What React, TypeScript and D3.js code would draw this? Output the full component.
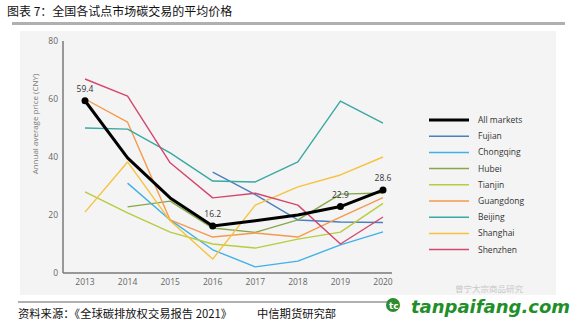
import React from "react";
import * as d3 from "d3";

const years = [2013, 2014, 2015, 2016, 2017, 2018, 2019, 2020];
const yTicks = [0, 20, 40, 60, 80];

const allMarkets = [59.4, 39.7, 25.9, 16.2, 18.0, 20.0, 22.9, 28.6];
const fujian = [null, null, null, 34.8, 27.0, 18.3, 17.6, 17.4];
const chongqing = [null, 31.0, 18.3, 8.0, 2.1, 4.1, 9.7, 14.2];
const hubei = [null, 22.8, 24.8, 15.5, 14.0, 18.3, 27.2, 27.6];
const tianjin = [28.0, 20.7, 14.1, 10.0, 8.6, 11.7, 14.1, 24.0];
const guangdong = [60.0, 52.0, 18.3, 12.4, 13.8, 12.4, 19.3, 26.0];
const beijing = [50.0, 49.6, 41.4, 31.7, 31.4, 38.3, 59.3, 51.7];
const shanghai = [21.0, 38.3, 18.0, 4.8, 23.4, 29.7, 33.8, 40.0];
const shenzhen = [66.9, 61.0, 38.0, 25.9, 27.5, 23.4, 10.0, 19.3];

const seriesNames = ["All markets", "Fujian", "Chongqing", "Hubei", "Tianjin", "Guangdong", "Beijing", "Shanghai", "Shenzhen"];
const seriesData = [allMarkets, fujian, chongqing, hubei, tianjin, guangdong, beijing, shanghai, shenzhen];
const seriesColors = ["#000000", "#4a7fc0", "#3fb1e8", "#86a84a", "#b9cb3e", "#f59a4c", "#3aa8a3", "#f7c23e", "#d4476e"];
const labeledIdx = [0, 3, 6, 7];

const title = "图表 7：全国各试点市场碳交易的平均价格";
const source = "资料来源：《全球碳排放权交易报告 2021》";
const org = "中信期货研究部";

export default function App() {
  const x = d3.scalePoint<number>().domain(years).range([85, 383]);
  const y = d3.scaleLinear().domain([0, 80]).range([273, 41]);
  const line = d3
    .line<number | null>()
    .defined((d) => d != null)
    .x((_, i) => x(years[i]) as number)
    .y((d) => y(d as number));

  const drawOrder = [1, 2, 3, 4, 5, 6, 7, 8, 0];
  const fontEn = "'Open Sans', 'Noto Sans', sans-serif";
  const fontCn = "'Noto Sans CJK SC', sans-serif";

  return (
    <svg width={582} height={326} style={{ position: "absolute", left: 0, top: 0 }}>
      <rect width={582} height={326} fill="#ffffff" />
      <text x={7} y={16} fontFamily={fontCn} fontSize={12} fill="#111">{title}</text>
      <rect x={12} y={22} width={553} height={3} fill="#b0b0b0" />
      <rect x={20} y={31} width={536} height={264} fill="#f4f4f4" />

      {/* axes */}
      <line x1={63} x2={63} y1={y(80)} y2={y(0)} stroke="#7a7a7a" strokeWidth={1.5} />
      <line x1={63} x2={392} y1={y(0)} y2={y(0)} stroke="#7a7a7a" strokeWidth={1.5} />
      {yTicks.map((t) => (
        <text key={t} x={58} y={y(t) + 3} textAnchor="end" fontFamily={fontEn} fontSize={8.5} fill="#666">{t}</text>
      ))}
      {years.map((yr) => (
        <text key={yr} x={x(yr)} y={285} textAnchor="middle" fontFamily={fontEn} fontSize={8.5} fill="#666">{yr}</text>
      ))}
      <text
        transform={`translate(38,124) rotate(-90)`}
        textAnchor="middle"
        fontFamily={fontEn}
        fontSize={8}
        fill="#777"
      >Annual average price (CNY)</text>

      {/* lines */}
      {drawOrder.map((si) => (
        <path
          key={si}
          d={line(seriesData[si] as (number | null)[]) || ""}
          fill="none"
          stroke={seriesColors[si]}
          strokeWidth={si === 0 ? 3 : 1.4}
          strokeLinejoin="round"
        />
      ))}
      {labeledIdx.map((i) => (
        <g key={i}>
          <circle cx={x(years[i])} cy={y(allMarkets[i])} r={3.5} fill="#000" />
          <text x={x(years[i])} y={y(allMarkets[i]) - 9} textAnchor="middle" fontFamily={fontEn} fontSize={8.5} fill="#333">
            {allMarkets[i].toFixed(1)}
          </text>
        </g>
      ))}

      {/* legend */}
      {seriesNames.map((n, i) => {
        const ly = 120 + i * 16.2;
        return (
          <g key={n}>
            <line x1={429} x2={469} y1={ly} y2={ly} stroke={seriesColors[i]} strokeWidth={i === 0 ? 3 : 1.5} />
            <text x={478} y={ly + 3} fontFamily={fontEn} fontSize={8.5} fill="#333">{n}</text>
          </g>
        );
      })}

      {/* footer */}
      <rect x={18} y={301} width={370} height={2} fill="#b0b0b0" />
      <text x={18} y={318} fontFamily={fontCn} fontSize={11.3} fill="#111">{source}</text>
      <text x={257} y={318} fontFamily={fontCn} fontSize={11.3} fill="#111">{org}</text>

      {/* watermark */}
      <text x={455} y={292} fontFamily={fontCn} fontSize={8.5} fill="#c8c8c8">曾宁大宗商品研究</text>
      <circle cx={393} cy={305} r={7} fill="#2e8b2e" />
      <text x={389} y={309} fontFamily="'DejaVu Sans', sans-serif" fontSize={9} fontWeight="bold" fill="#fff">tc</text>
      <text x={411} y={313} fontFamily="'DejaVu Sans', sans-serif" fontSize={18} fontWeight="bold" fontStyle="italic" fill="#1f8f2a">tanpaifang.com</text>
    </svg>
  );
}
